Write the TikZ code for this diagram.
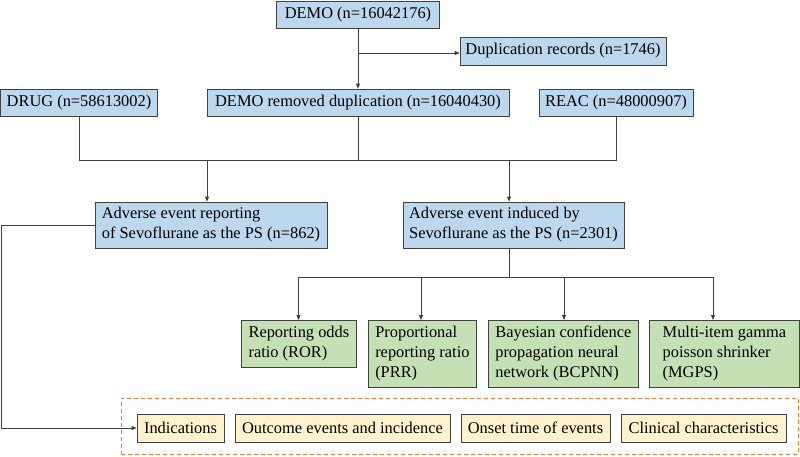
\documentclass[tikz,border=0pt]{standalone}
\usepackage{fontspec}
\setmainfont{Liberation Serif}
\newfontfamily\tnr{Liberation Serif}
\usetikzlibrary{arrows.meta}
\definecolor{blueF}{HTML}{BDD7EE}
\definecolor{greenF}{HTML}{C5E0B4}
\definecolor{yellowF}{HTML}{FFF2CC}
\definecolor{orangeD}{HTML}{ED7D31}
\definecolor{lineC}{HTML}{404040}
\newcommand\fsz{\tnr\fontsize{16.4pt}{20pt}\selectfont}
\begin{document}
\begin{tikzpicture}[x=1pt,y=-1pt,
 box/.style={draw=lineC, line width=0.8pt, inner sep=0pt, font=\fsz, text=black},
 bluebox/.style={box, fill=blueF, minimum height=27pt},
 blue2box/.style={box, fill=blueF, minimum height=46pt, align=left},
 greenbox/.style={box, fill=greenF, align=left, anchor=north west},
 yellowbox/.style={box, fill=yellowF, minimum height=28pt},
 groupbox/.style={draw=orangeD, line width=0.8pt, dash pattern=on 4pt off 3pt, anchor=north west, inner sep=0pt},
 conn/.style={draw=lineC, line width=0.8pt},
 arr/.style={conn, -{Triangle[length=5pt,width=4pt]}}
]
\useasboundingbox (0,0) rectangle (800,456);
% top
\node[bluebox, minimum width=163pt] (demo) at (358,14.5) {DEMO (n=16042176)};
\node[bluebox, minimum width=206pt, minimum height=28pt] (dup) at (563,51) {Duplication records (n=1746)};
\node[bluebox, minimum width=157pt] (drug) at (79,102.5) {DRUG (n=58613002)};
\node[bluebox, minimum width=302pt] (rem) at (358,102.5) {DEMO removed duplication (n=16040430)};
\node[bluebox, minimum width=154pt] (reac) at (616,102.5) {REAC (n=48000907)};
% second level
\node[blue2box, minimum width=232pt] (ae1) at (211,225) {Adverse event reporting\\of Sevoflurane as the PS (n=862)};
\node[blue2box, minimum width=221pt] (ae2) at (513.5,225) {Adverse event induced by\\Sevoflurane as the PS (n=2301)};
% methods
\node[greenbox, minimum width=115pt, minimum height=47pt] (ror) at (241,320) {Reporting odds\\ratio (ROR)};
\node[greenbox, minimum width=108pt, minimum height=67pt] (prr) at (368,320) {Proportional\\reporting ratio\\(PRR)};
\node[greenbox, minimum width=150pt, minimum height=67pt] (bc) at (488,320) {Bayesian confidence\\propagation neural\\network (BCPNN)};
\node[greenbox, minimum width=150pt, minimum height=67pt] (mg) at (649,320) {Multi-item gamma\\poisson shrinker\\(MGPS)};
% group
\node[groupbox, minimum width=677pt, minimum height=56pt] (grp) at (121,398) {};
\node[yellowbox, minimum width=87pt] (ind) at (180.5,428) {Indications};
\node[yellowbox, minimum width=215pt] (out) at (342.5,428) {Outcome events and incidence};
\node[yellowbox, minimum width=149pt] (ons) at (535.5,428) {Onset time of events};
\node[yellowbox, minimum width=165pt] (cli) at (703.5,428) {Clinical characteristics};
% junctions
\coordinate (j1) at (358,53);
\coordinate (m1) at (79,160);
\coordinate (m2) at (616,160);
\coordinate (a1) at (207,160);
\coordinate (a2) at (509,160);
\coordinate (b0) at (509,277);
\coordinate (bl) at (298.5,277);
\coordinate (bp) at (421,277);
\coordinate (bb) at (564,277);
\coordinate (br) at (713,277);
\coordinate (lx) at (1.5,0);
% connectors
\draw[arr] (demo.south) -- (rem.north);
\draw[arr] (j1) -- (j1 -| dup.west);
\draw[conn] (drug.south) -- (m1) -- (m2) -- (reac.south);
\draw[conn] (rem.south) -- (rem.south |- m1);
\draw[arr] (a1) -- (a1 |- ae1.north);
\draw[arr] (a2) -- (a2 |- ae2.north);
\draw[conn] (b0 |- ae2.south) -- (b0);
\draw[conn] (bl) -- (br);
\draw[arr] (bl) -- (bl |- ror.north);
\draw[arr] (bp) -- (bp |- prr.north);
\draw[arr] (bb) -- (bb |- bc.north);
\draw[arr] (br) -- (br |- mg.north);
\draw[arr] (ae1.west) -- (ae1.west -| lx) -- (ind.west -| lx) -- (ind.west);
\end{tikzpicture}
\end{document}
